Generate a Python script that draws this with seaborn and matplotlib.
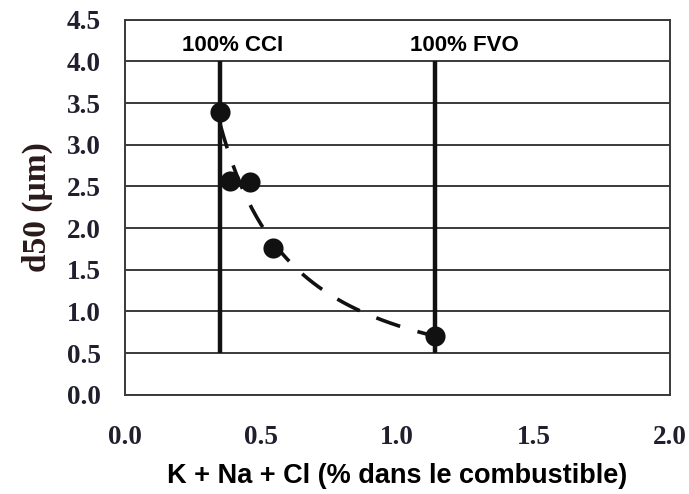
import numpy as np
import pandas as pd
import matplotlib
matplotlib.use("Agg")
import matplotlib.pyplot as plt
import seaborn as sns

# Data
x_vals = [0.35, 0.385, 0.46, 0.545, 1.14]
d50_vals = [3.39, 2.56, 2.55, 1.76, 0.70]
ref_x = [0.35, 1.14]
ref_labels = ["100% CCI", "100% FVO"]
ref_label_x = [0.396, 1.248]
ref_label_y = 4.12
ref_ymin = 0.5
ref_ymax = 4.0
xticks = [0.0, 0.5, 1.0, 1.5, 2.0]
yticks = [0.0, 0.5, 1.0, 1.5, 2.0, 2.5, 3.0, 3.5, 4.0, 4.5]

sns.set_style("white")
fig = plt.figure(figsize=(6.89, 4.94), dpi=100)
ax = fig.add_axes([0.181, 0.201, 0.791, 0.759])

# horizontal grid lines
for yt in yticks:
    ax.axhline(yt, color="#3a3a3a", lw=1.4, zorder=1)

# Power-law fit curve
b, loga = np.polyfit(np.log(x_vals), np.log(d50_vals), 1)
xf = np.linspace(min(x_vals), max(x_vals), 200)
fit = pd.DataFrame({"x": xf, "y": np.exp(loga) * xf ** b})
sns.lineplot(data=fit, x="x", y="y", ax=ax, color="#111111", lw=2.6,
             linestyle=(0, (7, 5)), zorder=3)

# Reference vertical lines
ax.vlines(ref_x, ref_ymin, ref_ymax, color="#111111", lw=3.2, zorder=4)
for xl, lab in zip(ref_label_x, ref_labels):
    ax.text(xl, ref_label_y, lab, ha="center", va="baseline",
            fontsize=16, fontweight="bold", family="Liberation Sans", color="black")

# Points
pts = pd.DataFrame({"x": x_vals, "y": d50_vals})
sns.scatterplot(data=pts, x="x", y="y", ax=ax, s=210, color="#111111",
                edgecolor="#111111", linewidth=0, zorder=5)

ax.set_xlim(0, 2.0)
ax.set_ylim(0, 4.5)
ax.set_xticks(xticks)
ax.set_yticks(yticks)
ax.set_xticklabels([f"{t:.1f}" for t in xticks])
ax.set_yticklabels([f"{t:.1f}" for t in yticks])
ax.tick_params(axis="both", direction="out", length=8, width=1.4, color="#3a3a3a",
               labelsize=19.5, labelcolor="#1f1f2e")
ax.tick_params(axis="x", pad=14)
ax.tick_params(axis="y", pad=9)
for lab in ax.get_xticklabels() + ax.get_yticklabels():
    lab.set_fontfamily("Liberation Serif")
    lab.set_fontweight("bold")

for sp in ax.spines.values():
    sp.set_visible(True)
    sp.set_color("#3a3a3a")
    sp.set_linewidth(1.4)

ax.set_xlabel("K + Na + Cl (% dans le combustible)", fontsize=19.5, fontweight="bold",
              family="Liberation Sans", color="black", labelpad=9)
ax.set_ylabel("d50 (µm)", fontsize=24, fontweight="bold", family="Liberation Serif",
              color="#2a1a1a", labelpad=10)

fig.savefig("out.png", dpi=100)
